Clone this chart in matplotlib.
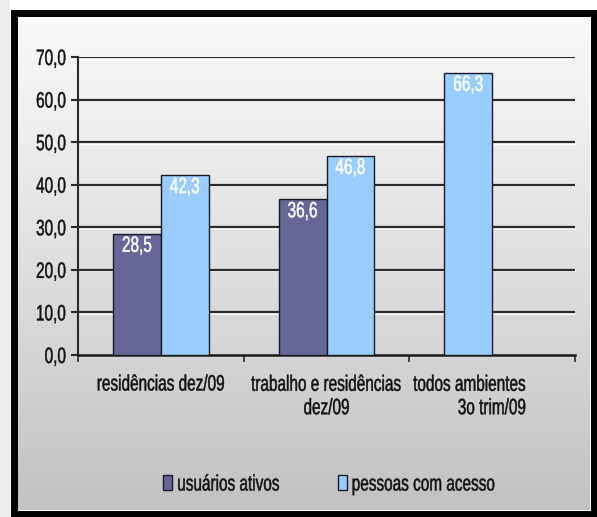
import numpy as np
import matplotlib
matplotlib.use("Agg")
import matplotlib.pyplot as plt
from matplotlib.patches import Rectangle, Patch
from matplotlib import transforms
from matplotlib.transforms import Affine2D
from matplotlib.patheffects import AbstractPathEffect

categories = ["residências dez/09", "trabalho e residências\ndez/09", "todos ambientes\n3o trim/09"]
usuarios = [28.5, 36.6, None]
pessoas = [42.3, 46.8, 66.3]
series_names = ["usuários ativos", "pessoas com acesso"]
yticks = [0, 10, 20, 30, 40, 50, 60, 70]
ytick_labels = ["0,0", "10,0", "20,0", "30,0", "40,0", "50,0", "60,0", "70,0"]

plt.rcParams["font.family"] = ["Liberation Sans", "DejaVu Sans"]
FS = 16
SX = 0.69
TXT = "#111111"


class HSqueeze(AbstractPathEffect):
    """Draw text horizontally condensed (like the narrow font of the original)."""
    def __init__(self, sx, align="center", stroke=0.35):
        super().__init__()
        self.sx = sx
        self.align = align
        self.stroke = stroke

    def draw_path(self, renderer, gc, tpath, affine, rgbFace=None):
        ext = tpath.get_extents(affine)
        if self.align == "left":
            px = ext.x0
        elif self.align == "right":
            px = ext.x1
        else:
            px = 0.5 * (ext.x0 + ext.x1)
        t = affine + Affine2D().translate(-px, 0).scale(self.sx, 1).translate(px, 0)
        gc0 = renderer.new_gc()
        gc0.copy_properties(gc)
        if self.stroke and rgbFace is not None:
            gc0.set_linewidth(self.stroke)
            gc0.set_foreground(rgbFace)
        renderer.draw_path(gc0, tpath, t, rgbFace)
        gc0.restore()


W, H = 597, 517
fig = plt.figure(figsize=(W / 100, H / 100), dpi=100)
fig.patch.set_facecolor("white")

# gradient background inside frame
bg = fig.add_axes([17 / W, 1 - 510 / H, (590 - 17) / W, (510 - 17) / H], zorder=0)
grad = np.linspace(0, 1, 256).reshape(-1, 1)
top = np.array([0.975, 0.975, 0.975])
bot = np.array([0.76, 0.76, 0.76])
img = top + (bot - top) * grad[:, :, None] ** 1.1
bg.imshow(img, aspect="auto", extent=[0, 1, 0, 1], origin="upper")
bg.set_axis_off()

# black frame
fig.patches.append(Rectangle((13.5 / W, 1 - 513.5 / H), (593.5 - 13.5) / W, (513.5 - 12.5) / H,
                             transform=fig.transFigure, fill=False, edgecolor="black",
                             linewidth=7 * 72 / 100, zorder=5))
fig.patches.append(Rectangle((0, 0), 10 / W, 1, transform=fig.transFigure,
                             facecolor="#ececec", edgecolor="none", zorder=1))

ax = fig.add_axes([78 / W, 1 - 355 / H, (575 - 78) / W, (355 - 57) / H], zorder=2)
ax.patch.set_alpha(0)

n = len(categories)
bw = 48 / 166
for i in range(n):
    c = i + 0.5
    u = usuarios[i]
    p = pessoas[i]
    if u is not None:
        ax.bar(c - bw / 2, u, width=bw, color="#666699", edgecolor="#1a1a2a", linewidth=1.0, zorder=3)
        t = ax.text(c - bw / 2, u - 0.5, f"{u:.1f}".replace(".", ","), ha="center", va="top",
                    color="white", fontsize=FS, zorder=4)
        t.set_path_effects([HSqueeze(SX, "center")])
        px = c + bw / 2
    else:
        px = c - bw / 2
    ax.bar(px, p, width=bw, color="#99CCFF", edgecolor="#1a1a2a", linewidth=1.0, zorder=3)
    t = ax.text(px, p - 0.5, f"{p:.1f}".replace(".", ","), ha="center", va="top",
                color="white", fontsize=FS, zorder=4)
    t.set_path_effects([HSqueeze(SX, "center")])

ax.set_xlim(0, n)
ax.set_ylim(0, 70)

# gridlines with white highlight below
hl = transforms.offset_copy(ax.transData, fig=fig, x=0, y=-1.6, units="dots")
for y in yticks[1:]:
    ax.plot([0, n], [y, y], color="white", lw=1.3, transform=hl, zorder=1, clip_on=False)
    ax.axhline(y, color="#2a2a2a", lw=1.6, zorder=1.5)

ax.set_yticks(yticks)
ylabs = ax.set_yticklabels(ytick_labels)
for t in ylabs:
    t.set_path_effects([HSqueeze(SX, "right")])
ax.set_xticks(range(n + 1))
ax.set_xticklabels([])
ax.tick_params(axis="y", direction="out", length=5, width=1.5, color="#2a2a2a",
               labelsize=FS, labelcolor=TXT, pad=3.5)
ax.tick_params(axis="x", direction="out", length=5, width=1.2, color="#2a2a2a")
for s in ["top", "right"]:
    ax.spines[s].set_visible(False)
ax.spines["left"].set_color("#2a2a2a")
ax.spines["left"].set_linewidth(1.5)
ax.spines["bottom"].set_color("#1a1a1a")
ax.spines["bottom"].set_linewidth(1.8)

# category labels
btrans = transforms.blended_transform_factory(ax.transData, fig.transFigure)
t1 = ax.text(0.5, 1 - 385 / H, categories[0], transform=btrans, ha="center", va="center",
             fontsize=FS, color=TXT)
t1.set_path_effects([HSqueeze(SX, "center")])
t2 = ax.text(1.5, 1 - 397 / H, categories[1], transform=btrans, ha="center", va="center",
             fontsize=FS, color=TXT, linespacing=1.15)
t2.set_path_effects([HSqueeze(SX, "center")])
t3 = ax.text(2.5 + 34 / 166, 1 - 397 / H, categories[2], transform=btrans, ha="right", va="center",
             multialignment="right", fontsize=FS, color=TXT, linespacing=1.15)
t3.set_path_effects([HSqueeze(SX, "right")])

# legend
handles = [Patch(facecolor="#666699", edgecolor="#1a1a2a"), Patch(facecolor="#99CCFF", edgecolor="#1a1a2a")]
leg = fig.legend(handles, series_names, loc="center left", bbox_to_anchor=(163 / W, 1 - 485 / H),
                 ncol=2, frameon=False, fontsize=FS, handlelength=0.42, handleheight=0.62,
                 handletextpad=0.2, columnspacing=0.55, labelcolor=TXT,
                 borderpad=0, borderaxespad=0)
for t in leg.get_texts():
    t.set_path_effects([HSqueeze(SX, "left")])

fig.savefig("out.png", dpi=100)
